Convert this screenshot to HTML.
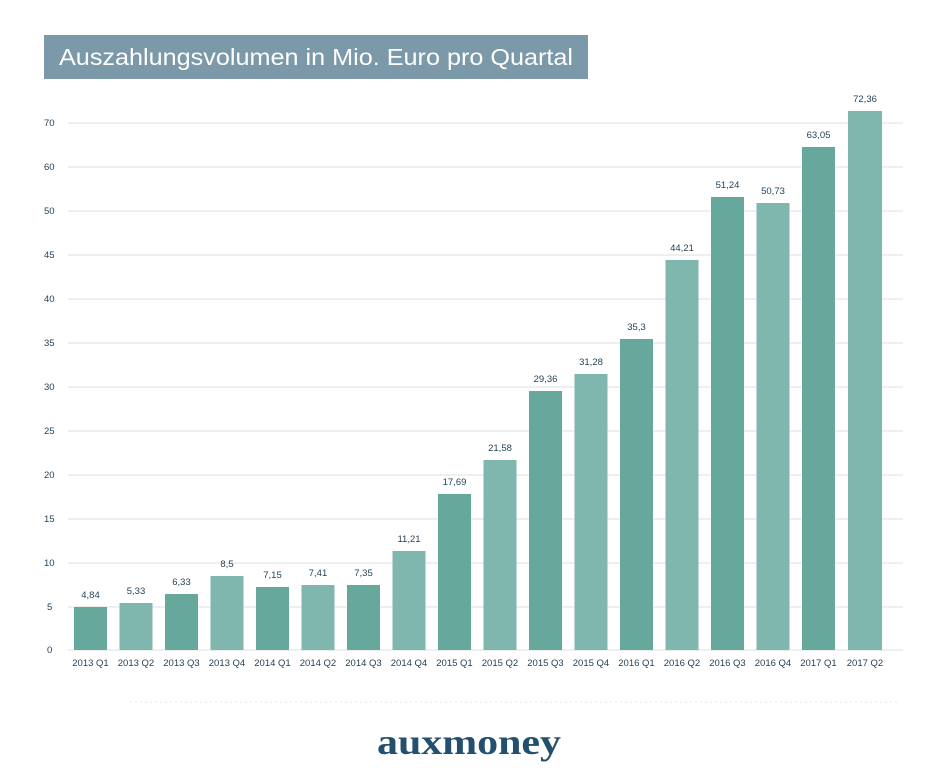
<!DOCTYPE html>
<html><head><meta charset="utf-8"><style>
body{margin:0;background:#fff;width:942px;height:777px;overflow:hidden}
svg{display:block;font-family:"Liberation Sans",sans-serif}
</style></head><body>
<svg width="942" height="777" xmlns="http://www.w3.org/2000/svg">
<rect x="44" y="35" width="544" height="44" fill="#7b99a9"/>
<text x="59" y="65" font-size="23" fill="#fff" textLength="514" lengthAdjust="spacingAndGlyphs">Auszahlungsvolumen in Mio. Euro pro Quartal</text>
<g stroke="#e3e6e6" stroke-width="1.2">
<line x1="68" x2="903" y1="123" y2="123"/><line x1="68" x2="903" y1="167" y2="167"/>
<line x1="68" x2="903" y1="211" y2="211"/><line x1="68" x2="903" y1="255" y2="255"/>
<line x1="68" x2="903" y1="299" y2="299"/><line x1="68" x2="903" y1="343" y2="343"/>
<line x1="68" x2="903" y1="387" y2="387"/><line x1="68" x2="903" y1="431" y2="431"/>
<line x1="68" x2="903" y1="475" y2="475"/><line x1="68" x2="903" y1="519" y2="519"/>
<line x1="68" x2="903" y1="563" y2="563"/><line x1="68" x2="903" y1="607" y2="607"/>
<line x1="68" x2="903" y1="650" y2="650"/>
</g>
<g font-size="9.5" fill="#1f3f55">
<text x="44" y="126">70</text><text x="44" y="170">60</text><text x="44" y="214">50</text>
<text x="44" y="258">45</text><text x="44" y="302">40</text><text x="44" y="346">35</text>
<text x="44" y="390">30</text><text x="44" y="434">25</text><text x="44" y="478">20</text>
<text x="44" y="522">15</text><text x="44" y="566">10</text><text x="47" y="610">5</text>
<text x="47" y="653">0</text>
</g>
<line x1="130" x2="900" y1="702" y2="702" stroke="#e6e6e6" stroke-dasharray="2,3"/>
<text x="377" y="754" font-size="36" font-weight="bold" fill="#24506f" font-family="Liberation Serif,serif" textLength="184" lengthAdjust="spacingAndGlyphs">auxmoney</text>
<g font-size="9.5" fill="#1f3f55" text-anchor="middle">
<rect x="74" y="607" width="33" height="43" fill="#66a89c"/><text x="90.5" y="598">4,84</text><text x="90.5" y="666">2013 Q1</text>
<rect x="119.5" y="603" width="33" height="47" fill="#7fb6ad"/><text x="136" y="594">5,33</text><text x="136" y="666">2013 Q2</text>
<rect x="165" y="594" width="33" height="56" fill="#66a89c"/><text x="181.5" y="585">6,33</text><text x="181.5" y="666">2013 Q3</text>
<rect x="210.5" y="576" width="33" height="74" fill="#7fb6ad"/><text x="227" y="567">8,5</text><text x="227" y="666">2013 Q4</text>
<rect x="256" y="587" width="33" height="63" fill="#66a89c"/><text x="272.5" y="578">7,15</text><text x="272.5" y="666">2014 Q1</text>
<rect x="301.5" y="585" width="33" height="65" fill="#7fb6ad"/><text x="318" y="576">7,41</text><text x="318" y="666">2014 Q2</text>
<rect x="347" y="585" width="33" height="65" fill="#66a89c"/><text x="363.5" y="576">7,35</text><text x="363.5" y="666">2014 Q3</text>
<rect x="392.5" y="551" width="33" height="99" fill="#7fb6ad"/><text x="409" y="542">11,21</text><text x="409" y="666">2014 Q4</text>
<rect x="438" y="494" width="33" height="156" fill="#66a89c"/><text x="454.5" y="485">17,69</text><text x="454.5" y="666">2015 Q1</text>
<rect x="483.5" y="460" width="33" height="190" fill="#7fb6ad"/><text x="500" y="451">21,58</text><text x="500" y="666">2015 Q2</text>
<rect x="529" y="391" width="33" height="259" fill="#66a89c"/><text x="545.5" y="382">29,36</text><text x="545.5" y="666">2015 Q3</text>
<rect x="574.5" y="374" width="33" height="276" fill="#7fb6ad"/><text x="591" y="365">31,28</text><text x="591" y="666">2015 Q4</text>
<rect x="620" y="339" width="33" height="311" fill="#66a89c"/><text x="636.5" y="330">35,3</text><text x="636.5" y="666">2016 Q1</text>
<rect x="665.5" y="260" width="33" height="390" fill="#7fb6ad"/><text x="682" y="251">44,21</text><text x="682" y="666">2016 Q2</text>
<rect x="711" y="197" width="33" height="453" fill="#66a89c"/><text x="727.5" y="188">51,24</text><text x="727.5" y="666">2016 Q3</text>
<rect x="756.5" y="203" width="33" height="447" fill="#7fb6ad"/><text x="773" y="194">50,73</text><text x="773" y="666">2016 Q4</text>
<rect x="802" y="147" width="33" height="503" fill="#66a89c"/><text x="818.5" y="138">63,05</text><text x="818.5" y="666">2017 Q1</text>
<rect x="848" y="111" width="34" height="539" fill="#7fb6ad"/><text x="865" y="102">72,36</text><text x="865" y="666">2017 Q2</text>
</g>
</svg>
</body></html>
